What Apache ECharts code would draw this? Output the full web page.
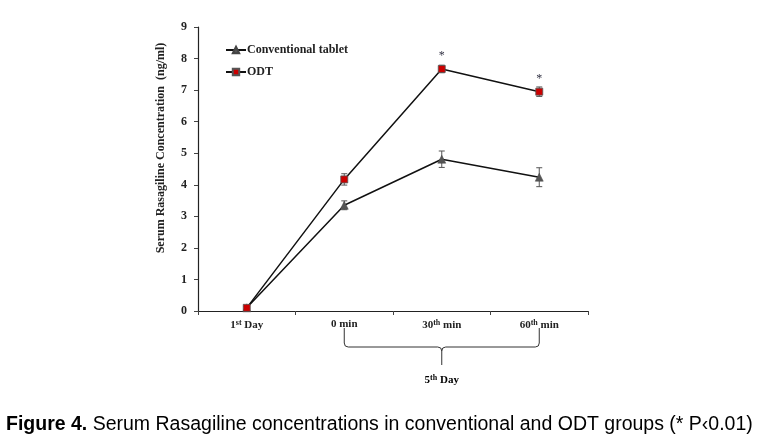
<!DOCTYPE html>
<html><head><meta charset="utf-8">
<script src="https://cdn.jsdelivr.net/npm/echarts@6/dist/echarts.min.js"></script>
<style>html,body{margin:0;padding:0;background:#fff}#c{width:760px;height:443px}</style>
</head><body><div id="c"></div>
<script>
var categories = ['1st Day', '0 min', '30th min', '60th min'];
var conventional = [0.1, 3.35, 4.81, 4.24];
var conventionalErr = [0.05, 0.14, 0.26, 0.3];
var odt = [0.1, 4.17, 7.67, 6.95];
var odtErr = [0.05, 0.18, 0.12, 0.15];
var significance = ['', '', '*', '*'];
var yTicks = [0, 1, 2, 3, 4, 5, 6, 7, 8, 9];
var groupLabel = '5th Day';
var groupRange = ['0 min', '60th min'];
var yTitle = 'Serum Rasagiline Concentration  (ng/ml)';

var serif = 'Liberation Serif, Times New Roman, serif';
function supLabel(s) {
  var m = s.match(/^(\d+)(st|th)( .*)$/);
  if (!m) return '{a|' + s + '}';
  return '{a|' + m[1] + '}{s|' + m[2] + '}{a|' + m[3] + '}';
}
var rich = {
  a: {fontFamily: serif, fontWeight: 'bold', fontSize: 11, color: '#222'},
  s: {fontFamily: serif, fontWeight: 'bold', fontSize: 8, color: '#222', verticalAlign: 'top', padding: [0, 0, 5, 0]}
};
function errSeries(vals, errs) {
  return {
    type: 'custom',
    silent: true,
    z: 1,
    data: vals.map(function (v, i) { return [i, v - errs[i], v + errs[i]]; }),
    renderItem: function (params, api) {
      var lo = api.coord([api.value(0), api.value(1)]);
      var hi = api.coord([api.value(0), api.value(2)]);
      var w = 3;
      var st = {stroke: '#555', lineWidth: 1};
      return {type: 'group', children: [
        {type: 'line', shape: {x1: lo[0], y1: lo[1], x2: hi[0], y2: hi[1]}, style: st},
        {type: 'line', shape: {x1: lo[0] - w, y1: lo[1], x2: lo[0] + w, y2: lo[1]}, style: st},
        {type: 'line', shape: {x1: hi[0] - w, y1: hi[1], x2: hi[0] + w, y2: hi[1]}, style: st}
      ]};
    }
  };
}
var chart = echarts.init(document.getElementById('c'));
chart.setOption({
  animation: false,
  backgroundColor: '#fff',
  grid: {left: 198, right: 172, top: 27, bottom: 132},
  legend: {
    orient: 'vertical', left: 220, top: 39, itemGap: 10, itemWidth: 20, itemHeight: 8,
    data: ['Conventional tablet', 'ODT'],
    textStyle: {fontFamily: serif, fontWeight: 'bold', fontSize: 12, color: '#222', padding: [0, 0, 0, -4]}
  },
  xAxis: {
    type: 'category', data: categories, boundaryGap: true,
    axisLine: {lineStyle: {color: '#222', width: 1.2}},
    axisTick: {show: true, length: 4, inside: false, interval: 0, lineStyle: {color: '#444'}},
    axisLabel: {formatter: supLabel, rich: rich, margin: 8, interval: 0}
  },
  yAxis: {
    type: 'value', min: 0, max: 9, interval: 1,
    splitLine: {show: false},
    axisLine: {show: true, lineStyle: {color: '#222', width: 1.2}},
    axisTick: {show: true, length: 4, lineStyle: {color: '#444'}},
    axisLabel: {fontFamily: serif, fontWeight: 'bold', fontSize: 12, color: '#222', margin: 11,
      formatter: function (v) { return yTicks.indexOf(v) >= 0 ? String(v) : ''; }}
  },
  series: [
    errSeries(conventional, conventionalErr),
    errSeries(odt, odtErr),
    {
      name: 'Conventional tablet', type: 'line', data: conventional, z: 3,
      symbol: 'triangle', symbolSize: 8,
      lineStyle: {color: '#111', width: 1.5},
      itemStyle: {color: '#555', borderColor: '#444', borderWidth: 0.5}
    },
    {
      name: 'ODT', type: 'line', data: odt, z: 3,
      symbol: 'rect', symbolSize: 7,
      lineStyle: {color: '#111', width: 1.5},
      itemStyle: {color: '#cc0000', borderColor: '#555', borderWidth: 0.8},
      label: {show: true, position: 'top', distance: 3,
        formatter: function (p) { return significance[p.dataIndex]; },
        fontFamily: serif, fontSize: 12, color: '#334'}
    }
  ]
});

function drawExtras() {
  var x1 = chart.convertToPixel({xAxisIndex: 0}, groupRange[0]);
  var x2 = chart.convertToPixel({xAxisIndex: 0}, groupRange[1]);
  var xm = (x1 + x2) / 2;
  var y0 = chart.convertToPixel({yAxisIndex: 0}, 0);
  var top = y0 + 17, hy = y0 + 36, bot = y0 + 54;
  var r = 4;
  var st = {stroke: '#333', lineWidth: 1, fill: null};
  var els = [
    {type: 'line', shape: {x1: x1, y1: top, x2: x1, y2: hy - r}, style: st},
    {type: 'bezierCurve', shape: {x1: x1, y1: hy - r, x2: x1 + r, y2: hy, cpx1: x1, cpy1: hy}, style: st},
    {type: 'line', shape: {x1: x1 + r, y1: hy, x2: xm - r, y2: hy}, style: st},
    {type: 'bezierCurve', shape: {x1: xm - r, y1: hy, x2: xm, y2: hy + r, cpx1: xm, cpy1: hy}, style: st},
    {type: 'bezierCurve', shape: {x1: xm + r, y1: hy, x2: xm, y2: hy + r, cpx1: xm, cpy1: hy}, style: st},
    {type: 'line', shape: {x1: xm, y1: hy + r, x2: xm, y2: bot}, style: st},
    {type: 'line', shape: {x1: xm + r, y1: hy, x2: x2 - r, y2: hy}, style: st},
    {type: 'bezierCurve', shape: {x1: x2, y1: hy - r, x2: x2 - r, y2: hy, cpx1: x2, cpy1: hy}, style: st},
    {type: 'line', shape: {x1: x2, y1: top, x2: x2, y2: hy - r}, style: st},
    {type: 'text', x: xm, y: y0 + 69, style: {text: supLabel(groupLabel), rich: rich, align: 'center', verticalAlign: 'middle'}},
    {type: 'text', x: 161, y: 148, rotation: Math.PI / 2, style: {text: yTitle, align: 'center', verticalAlign: 'middle',
      fontFamily: serif, fontWeight: 'bold', fontSize: 12, fill: '#222'}},
    {type: 'text', x: 6, y: 425, style: {
      text: '{b|Figure 4.}{n| Serum Rasagiline concentrations in conventional and ODT groups (* P‹0.01)}',
      align: 'left', verticalAlign: 'middle',
      rich: {
        b: {fontFamily: 'Liberation Sans, Arial, sans-serif', fontWeight: 'bold', fontSize: 19.5, color: '#000'},
        n: {fontFamily: 'Liberation Sans, Arial, sans-serif', fontSize: 19.5, color: '#000'}
      }}}
  ];
  chart.setOption({graphic: els});
}
drawExtras();
</script>
</body></html>
